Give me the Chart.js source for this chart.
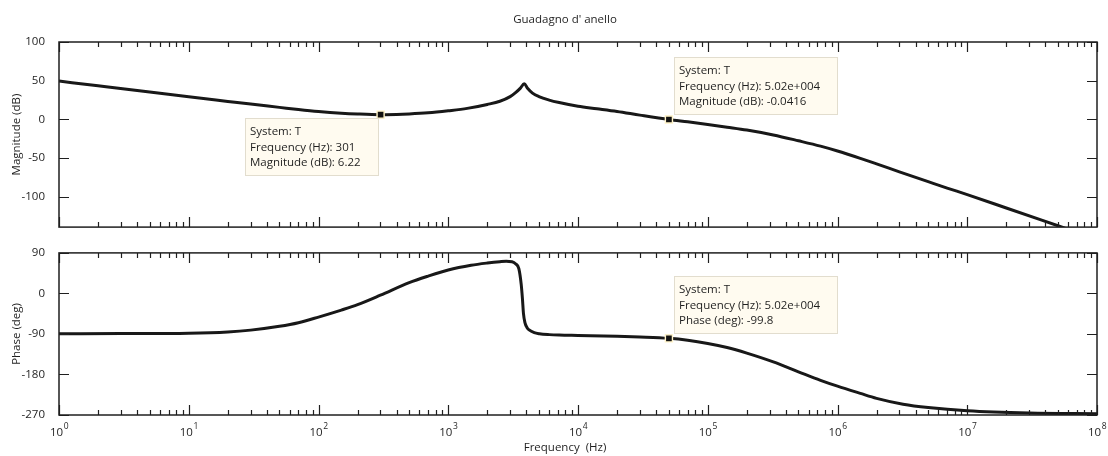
<!DOCTYPE html>
<html>
<head>
<meta charset="utf-8">
<title>Guadagno d' anello</title>
<script src="https://cdn.jsdelivr.net/npm/chart.js@4.4.1/dist/chart.umd.min.js"></script>
<style>
  html, body { margin: 0; padding: 0; background: #fff; }
  #wrap { position: relative; width: 1108px; height: 456px; }
  #wrap canvas { position: absolute; left: 0; }
  #cMag { top: 0; }
  #cFase { top: 240px; }
</style>
</head>
<body>
<div id="wrap">
  <canvas id="cMag" width="1108" height="240"></canvas>
  <canvas id="cFase" width="1108" height="216"></canvas>
</div>
<script>
/* Diagramma di Bode del guadagno d'anello T: modulo sopra, fase sotto. */
const FONT = '"Open Sans", "DejaVu Sans", sans-serif';
const INK = "#1f1f1f";

// modulo (dB) letto lungo la curva
const freqMag = [1, 2, 5, 10, 20, 30, 50, 70, 100, 150, 200, 301, 400, 500, 700, 1000, 1400, 2000, 2500, 3000, 3320, 3600, 3850, 4100, 4460, 5000, 6000, 7160, 1e4, 1.4e4, 2e4, 3e4, 50200, 7e4, 1e5, 1.41e5, 2e5, 3.2e5, 5e5, 7.4e5, 1e6, 1.5e6, 2e6, 3e6, 5e6, 7e6, 1e7, 2e7, 5e7, 1e8];
const magDb = [49.5, 43.5, 35.5, 29.3, 23.3, 19.8, 15.6, 12.8, 10.2, 8.0, 7.0, 6.22, 6.4, 7.0, 8.5, 11.2, 14.3, 19.4, 23.5, 29.5, 35, 40.5, 46, 40, 34, 29.5, 25, 21.8, 17, 13.8, 10.3, 5.6, -0.0416, -3.1, -6.5, -10, -13.7, -20, -27.5, -34.5, -40.8, -50.3, -57.4, -67.6, -80.3, -88.6, -97, -114.3, -137.3, -154.7];

// fase (gradi)
const freqFase = [1, 3, 10, 20, 30, 50, 70, 100, 150, 200, 300, 500, 700, 1000, 1500, 2000, 2500, 2800, 3100, 3300, 3500, 3650, 3730, 3800, 3900, 4050, 4200, 4600, 5040, 6000, 7160, 1e4, 2e4, 3e4, 50200, 7e4, 1e5, 1.41e5, 2e5, 3.2e5, 5e5, 7.4e5, 1e6, 1.5e6, 2e6, 3.2e6, 5e6, 1e7, 3e7, 1e8];
const faseDeg = [-89.5, -89.2, -88.3, -85.5, -81.5, -73, -65, -52.5, -37, -25, -4, 24, 38.5, 52, 62.5, 67.5, 70.5, 71.5, 70.5, 66, 55, 20, -11.5, -45, -65, -76, -81, -87, -89.5, -91.5, -92.5, -93.3, -95, -96.7, -99.8, -104, -111, -120, -132.5, -152, -174, -193, -206, -222, -233, -246, -253.5, -260.7, -265.6, -267];

// tacche degli assi
const tickMag = [100, 50, 0, -50, -100];
const tickFase = [90, 0, -90, -180, -270];
const esponenti = [0, 1, 2, 3, 4, 5, 6, 7, 8];
const sottoDiv = [2, 3, 4, 5, 6, 7, 8, 9];

// datatip
const tipMagFreq = [301, 50200];
const tipMagVal = [6.22, -0.0416];
const tipFaseFreq = [50200];
const tipFaseVal = [-99.8];

function fmtMatlab(n) {
  // tre cifre significative, esponente a tre cifre
  return Number(n).toPrecision(3).replace(/e([+-])(\d+)$/, (m, s, d) => "e" + s + d.padStart(3, "0"));
}

function punti(xs, ys) {
  return xs.map((x, i) => ({ x, y: ys[i] }));
}

function disegnaTip(ctx, px, py, righe, lato) {
  ctx.font = `11.5px ${FONT}`;
  const w = Math.round(Math.max(...righe.map(r => ctx.measureText(r).width)) + 22);
  const h = 57;
  let x0, y0;
  if (lato === "sotto") { x0 = Math.round(px - 3 - w); y0 = Math.round(py + 3); }
  else { x0 = Math.round(px + 5); y0 = Math.round(py - 5 - h); }
  ctx.fillStyle = "#fffbf0";
  ctx.fillRect(x0, y0, w, h);
  ctx.strokeStyle = "#e2ddce";
  ctx.lineWidth = 1;
  ctx.strokeRect(x0 + 0.5, y0 + 0.5, w, h);
  ctx.fillStyle = INK;
  ctx.textAlign = "left";
  ctx.textBaseline = "middle";
  righe.forEach((r, i) => ctx.fillText(r, x0 + 5, y0 + 14 + i * 15.6));
}

const cornice = {
  id: "cornice",
  afterDraw(chart, args, opts) {
    const { ctx, chartArea: a } = chart;
    const sx = chart.scales.x, sy = chart.scales.y;
    ctx.save();
    ctx.strokeStyle = INK;
    ctx.lineWidth = 1.2;
    ctx.beginPath();
    // decadi e sottodivisioni, in alto e in basso
    esponenti.forEach(e => {
      const v = Math.pow(10, e);
      const xs = [[v, 10]];
      if (e < 8) sottoDiv.forEach(m => xs.push([m * v, 5]));
      xs.forEach(([val, len]) => {
        const px = Math.round(sx.getPixelForValue(val)) + 0.5;
        ctx.moveTo(px, a.bottom); ctx.lineTo(px, a.bottom - len);
        ctx.moveTo(px, a.top); ctx.lineTo(px, a.top + len);
      });
    });
    opts.tickY.forEach(v => {
      const py = Math.round(sy.getPixelForValue(v)) + 0.5;
      ctx.moveTo(a.left, py); ctx.lineTo(a.left + 10, py);
      ctx.moveTo(a.right, py); ctx.lineTo(a.right - 10, py);
    });
    ctx.stroke();
    ctx.lineWidth = 1.5;
    ctx.strokeRect(a.left, a.top, a.right - a.left, a.bottom - a.top);

    // datatip
    opts.tipFreq.forEach((f, i) => {
      const v = opts.tipVal[i];
      disegnaTip(ctx, sx.getPixelForValue(f), sy.getPixelForValue(v),
        ["System: T", "Frequency (Hz): " + fmtMatlab(f), opts.grandezza + ": " + fmtMatlab(v)],
        opts.lati[i]);
    });

    ctx.fillStyle = INK;
    if (opts.titolo) {
      ctx.font = `11.5px ${FONT}`;
      ctx.textAlign = "center";
      ctx.textBaseline = "alphabetic";
      ctx.fillText(opts.titolo, 565, 23);
    }
    if (opts.etichetteX) {
      // 10^n con esponente in apice
      esponenti.forEach(e => {
        const px = sx.getPixelForValue(Math.pow(10, e));
        ctx.font = `11.5px ${FONT}`;
        const w1 = ctx.measureText("10").width;
        ctx.font = `8.5px ${FONT}`;
        const w2 = ctx.measureText(String(e)).width;
        const x0 = px - (w1 + w2) / 2;
        ctx.textAlign = "left";
        ctx.textBaseline = "alphabetic";
        ctx.font = `11.5px ${FONT}`;
        ctx.fillText("10", x0, a.bottom + 21);
        ctx.font = `8.5px ${FONT}`;
        ctx.fillText(String(e), x0 + w1 + 0.5, a.bottom + 13.5);
      });
      ctx.font = `11.5px ${FONT}`;
      ctx.textAlign = "center";
      ctx.fillText("Frequency  (Hz)", 565, a.bottom + 36);
    }
    ctx.restore();
  }
};

function creaGrafico(canvas, xs, ys, tipF, tipV, yMin, yMax, ticks, titoloY, extra) {
  return new Chart(canvas, {
    type: "line",
    data: {
      datasets: [{
        data: punti(xs, ys),
        order: 1,
        borderColor: "#181818",
        borderWidth: 3,
        pointRadius: 0,
        cubicInterpolationMode: "monotone",
        clip: 0,
      }, {
        // marcatori dei datatip, sopra la curva
        data: punti(tipF, tipV),
        order: 0,
        showLine: false,
        pointStyle: "rect",
        pointRadius: 5,
        pointBackgroundColor: "#111",
        pointBorderColor: "#fff3c8",
        pointBorderWidth: 1.4,
      }],
    },
    options: {
      responsive: false,
      animation: false,
      events: [],
      layout: { padding: extra.padding },
      plugins: {
        legend: { display: false },
        tooltip: { enabled: false },
        cornice: Object.assign({ tickY: ticks, tipFreq: tipF, tipVal: tipV }, extra.cornice),
      },
      scales: {
        x: { type: "logarithmic", min: 1, max: 1e8, display: false },
        y: {
          min: yMin, max: yMax,
          afterBuildTicks: s => { s.ticks = ticks.map(v => ({ value: v })); },
          afterFit: s => { s.width = 59; },
          grid: { display: false },
          border: { display: false },
          ticks: { color: INK, font: { family: FONT, size: 11.5 }, padding: 6 },
          title: { display: true, text: titoloY, color: INK, font: { family: FONT, size: 11.5 }, padding: { top: 10, bottom: 0 } },
        },
      },
    },
    plugins: [cornice],
  });
}

creaGrafico(document.getElementById("cMag"), freqMag, magDb, tipMagFreq, tipMagVal,
  -139, 100, tickMag, "Magnitude (dB)", {
    padding: { top: 42, right: 11, bottom: 6, left: 0 },
    cornice: { grandezza: "Magnitude (dB)", lati: ["sotto", "sopra"], titolo: "Guadagno d' anello" },
  });

creaGrafico(document.getElementById("cFase"), freqFase, faseDeg, tipFaseFreq, tipFaseVal,
  -270, 90, tickFase, "Phase (deg)", {
    padding: { top: 6, right: 11, bottom: 41, left: 0 },
    cornice: { grandezza: "Phase (deg)", lati: ["sopra"], etichetteX: true },
  });
</script>
</body>
</html>
